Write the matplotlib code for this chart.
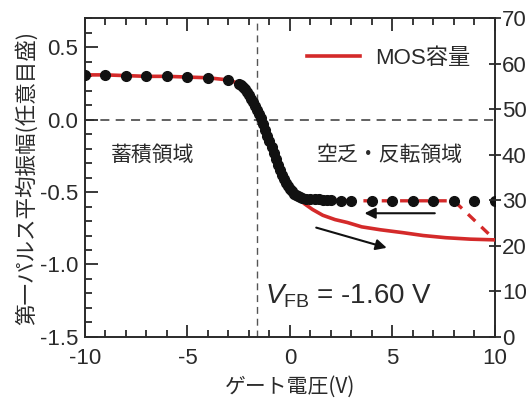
import matplotlib
matplotlib.use("Agg")
import matplotlib.pyplot as plt
from matplotlib.ticker import MultipleLocator

plt.rcParams['font.family'] = ['Liberation Sans', 'Noto Sans CJK JP', 'DejaVu Sans']
plt.rcParams['mathtext.fontset'] = 'custom'
plt.rcParams['mathtext.rm'] = 'Liberation Sans'
plt.rcParams['mathtext.it'] = 'Liberation Sans:italic'

# ---- data ----
dots_x = [-10, -9, -8, -7, -6, -5, -4, -3, -2.5, -2.4, -2.3, -2.2, -2.1, -2.0, -1.9,
          -1.8, -1.7, -1.6, -1.5, -1.4, -1.3, -1.2, -1.1, -1.0, -0.9, -0.8, -0.7,
          -0.6, -0.5, -0.4, -0.3, -0.2, -0.1, 0.0, 0.1, 0.2, 0.3, 0.4, 0.5, 0.6,
          0.8, 1.0, 1.2, 1.4, 1.6, 1.8, 2.0, 2.5, 3, 4, 5, 6, 7, 8, 9, 10]
dots_y = [0.31, 0.31, 0.305, 0.30, 0.30, 0.295, 0.29, 0.275, 0.25, 0.24, 0.225, 0.21,
          0.19, 0.17, 0.145, 0.12, 0.095, 0.07, 0.04, 0.01, -0.03, -0.07, -0.11,
          -0.15, -0.19, -0.23, -0.27, -0.31, -0.345, -0.38, -0.41, -0.44, -0.46,
          -0.48, -0.495, -0.51, -0.52, -0.53, -0.535, -0.54, -0.545, -0.55, -0.55,
          -0.55, -0.555, -0.555, -0.555, -0.56, -0.56, -0.56, -0.56, -0.56, -0.56,
          -0.56, -0.56, -0.56]

mos_x = [-10, -9, -8, -7, -6, -5, -4, -3, -2.5, -2.0, -1.6, -1.3, -1.0, -0.7, -0.4,
         -0.1, 0.3, 0.7, 1.1, 1.6, 2.2, 2.8, 3.5, 4.4, 5.5, 6.5, 7.6, 8.8, 10]
mos_y = [0.31, 0.31, 0.305, 0.30, 0.30, 0.295, 0.29, 0.275, 0.25, 0.18, 0.08, -0.02,
         -0.14, -0.27, -0.39, -0.47, -0.53, -0.58, -0.62, -0.66, -0.69, -0.71, -0.74,
         -0.76, -0.78, -0.80, -0.815, -0.825, -0.83]

rev_x = [0.9, 2, 3, 4, 5, 6, 7, 8, 10]
rev_y = [-0.55, -0.555, -0.56, -0.56, -0.56, -0.56, -0.56, -0.56, -0.83]

vfb = -1.60
xticks = [-10, -5, 0, 5, 10]
yticks = [0.5, 0.0, -0.5, -1.0, -1.5]
rticks = [0, 10, 20, 30, 40, 50, 60, 70]

red = '#d42a2a'
ink = '#2a2a2a'
cjk = ['Noto Sans CJK JP', 'Liberation Sans']

fig = plt.figure(figsize=(5.26, 4.01), dpi=100)
ax = fig.add_axes([0.1616, 0.160, 0.7794, 0.794])

ax.axhline(0, color='#555555', lw=1.3, ls=(0, (5, 3.5)), zorder=1)
ax.axvline(vfb, color='#555555', lw=1.0, ls=(0, (5, 3.5)), zorder=1)

ax.plot(mos_x, mos_y, color=red, lw=2.6, zorder=3, label='MOS容量')
ax.plot(rev_x, rev_y, color=red, lw=2.4, ls=(0, (3, 2.5)), zorder=3)
ax.plot(dots_x, dots_y, 'o', color='#111111', ms=7, zorder=4, mec='#111111')

ax.set_xlim(-10, 10)
ax.set_ylim(-1.5, 0.7)
ax.set_xticks(xticks)
ax.set_yticks(yticks)
ax.set_xticklabels(['-10', '-5', '0', '5', '10'])
ax.set_yticklabels(['0.5', '0.0', '-0.5', '-1.0', '-1.5'])
ax.xaxis.set_minor_locator(MultipleLocator(1))
ax.yaxis.set_minor_locator(MultipleLocator(0.1))
ax.tick_params(which='both', direction='in', top=True, right=False,
               colors=ink, width=1.3, labelsize=16, labelcolor=ink)
ax.tick_params(which='major', length=9, pad=5)
ax.tick_params(which='minor', length=5)
ax.tick_params(axis='x', which='major', pad=8)
for s in ax.spines.values():
    s.set_color(ink)
    s.set_linewidth(1.4)

ax2 = ax.twinx()
ax2.set_ylim(0, 70)
ax2.set_yticks(rticks)
ax2.tick_params(axis='y', direction='inout', length=8, width=1.3, colors=ink,
                labelsize=16, labelcolor=ink, pad=1)
for s in ax2.spines.values():
    s.set_visible(False)

ax.set_xlabel('ゲート電圧(V)', fontsize=15, color=ink, labelpad=5, family=cjk)
ax.set_ylabel('第一パルス平均振幅(任意目盛)', fontsize=15.5, color=ink, labelpad=1,
              family=cjk)

ax.text(-6.7, -0.24, '蓄積領域', fontsize=15, color=ink, ha='center', va='center',
        family=cjk)
ax.text(4.85, -0.24, '空乏・反転領域', fontsize=15, color=ink, ha='center', va='center',
        family=cjk)
ax.text(-1.2, -1.22, r'$V_{\mathrm{FB}}$ = -1.60 V', fontsize=20, color=ink,
        ha='left', va='center')

ax.annotate('', xy=(3.5, -0.646), xytext=(7.2, -0.646),
            arrowprops=dict(arrowstyle='-|>', color='#111111', lw=1.5,
                            mutation_scale=16))
ax.annotate('', xy=(4.85, -0.89), xytext=(1.15, -0.74),
            arrowprops=dict(arrowstyle='-|>', color='#111111', lw=1.5,
                            mutation_scale=16))

leg = ax.legend(loc='upper right', frameon=False,
                handlelength=2.4, handletextpad=0.7,
                bbox_to_anchor=(0.99, 0.97),
                prop={'family': ['Liberation Sans', 'Noto Sans CJK JP'], 'size': 16})
for t in leg.get_texts():
    t.set_color(ink)

fig.savefig('out.png', dpi=100)
